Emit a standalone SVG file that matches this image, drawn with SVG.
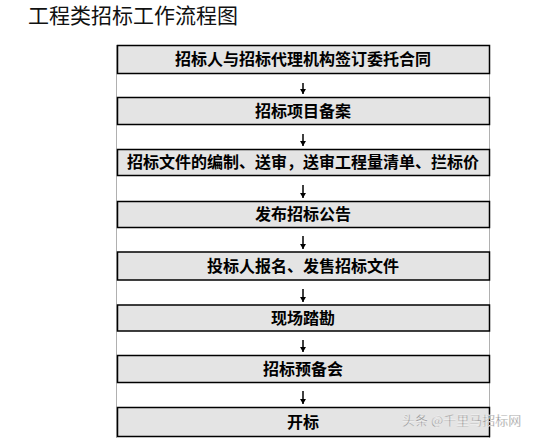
<svg xmlns="http://www.w3.org/2000/svg" width="539" height="438" viewBox="0 0 539 438">
<defs>
<style>
.box{fill:#e4e4e4;stroke:#000;stroke-width:1.5}
.lbl{font-family:"Noto Sans CJK SC","Noto Sans CJK TC",sans-serif;font-size:16px;font-weight:bold;fill:#000;text-anchor:middle}
.conn{stroke:#000;stroke-width:1.5;fill:none;marker-end:url(#ah)}
.grid{stroke:#b0b0b0;stroke-width:1}
</style>
<marker id="ah" markerWidth="6" markerHeight="6" refX="5" refY="3" orient="auto" markerUnits="userSpaceOnUse">
<path d="M0,0 L5,3 L0,6 Z" fill="#000"/>
</marker>
</defs>
<rect width="539" height="438" fill="#fff"/>
<text x="28" y="23" font-family="'Noto Sans CJK SC',sans-serif" font-size="21" fill="#111">工程类招标工作流程图</text>
<g id="grid">
<line class="grid" x1="116.5" y1="45" x2="116.5" y2="438"/>
<line class="grid" x1="489.5" y1="45" x2="489.5" y2="438"/>
</g>
<g id="connectors">
<line class="conn" x1="303" y1="83" x2="303" y2="94"/>
<line class="conn" x1="303" y1="134" x2="303" y2="146"/>
<line class="conn" x1="303" y1="185" x2="303" y2="198"/>
<line class="conn" x1="303" y1="236" x2="303" y2="249"/>
<line class="conn" x1="303" y1="289" x2="303" y2="302"/>
<line class="conn" x1="303" y1="340" x2="303" y2="352"/>
<line class="conn" x1="303" y1="391" x2="303" y2="404"/>
</g>
<g id="n1"><rect class="box" x="117.5" y="45.5" width="372" height="28"/><text class="lbl" x="303" y="65">招标人与招标代理机构签订委托合同</text></g>
<g id="n2"><rect class="box" x="117.5" y="97.5" width="372" height="27"/><text class="lbl" x="303" y="116.5">招标项目备案</text></g>
<g id="n3"><rect class="box" x="117.5" y="149.5" width="372" height="26"/><text class="lbl" x="303" y="168">招标文件的编制、送审，送审工程量清单、拦标价</text></g>
<g id="n4"><rect class="box" x="117.5" y="201.5" width="372" height="26"/><text class="lbl" x="303" y="220">发布招标公告</text></g>
<g id="n5"><rect class="box" x="117.5" y="252" width="372" height="28"/><text class="lbl" x="303" y="272">投标人报名、发售招标文件</text></g>
<g id="n6"><rect class="box" x="117.5" y="305" width="372" height="26"/><text class="lbl" x="303" y="324">现场踏勘</text></g>
<g id="n7"><rect class="box" x="117.5" y="355.5" width="372" height="27"/><text class="lbl" x="303" y="375">招标预备会</text></g>
<g id="n8"><rect class="box" x="117.5" y="407.5" width="372" height="29"/><text class="lbl" x="303" y="428">开标</text></g>
<text x="402" y="425" font-family="'Noto Sans CJK SC',sans-serif" font-size="13" fill="#8a8a8a" stroke="#fff" stroke-width="0.3">头条 @千里马招标网</text>
</svg>
